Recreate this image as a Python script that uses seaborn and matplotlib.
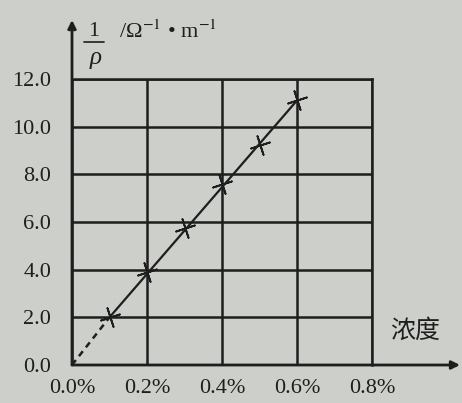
import matplotlib
matplotlib.use("Agg")
import matplotlib.pyplot as plt
import seaborn as sns
import pandas as pd

# data
conc = [0.1, 0.2, 0.3, 0.4, 0.5, 0.6]          # 浓度 (%)
inv_rho = [2.0, 3.9, 5.75, 7.6, 9.25, 11.1]      # 1/ρ (Ω^-1·m^-1)
fit_solid_x = [0.1, 0.6]
fit_solid_y = [2.0, 11.1]
fit_dash_x = [0.0, 0.1]
fit_dash_y = [0.0, 2.0]
xticks = [0.0, 0.2, 0.4, 0.6, 0.8]
xticklabels = ["0.0%", "0.2%", "0.4%", "0.6%", "0.8%"]
yticks = [0.0, 2.0, 4.0, 6.0, 8.0, 10.0, 12.0]
yticklabels = ["0.0", "2.0", "4.0", "6.0", "8.0", "10.0", "12.0"]

sns.set_theme(style="white")
plt.rcParams['font.family'] = ['Liberation Serif', 'DejaVu Serif']
plt.rcParams['mathtext.fontset'] = 'stix'

bg = '#cdcfca'
ink = '#1e1e1e'
W, H = 462, 403
fig = plt.figure(figsize=(W / 100, H / 100), dpi=100, facecolor=bg)
ax = fig.add_axes([72 / W, 1 - 365 / H, 300 / W, 286 / H])
ax.set_facecolor(bg)

df = pd.DataFrame({"x": conc, "y": inv_rho})
sns.lineplot(x=fit_solid_x, y=fit_solid_y, ax=ax, color=ink, lw=1.6)
sns.lineplot(x=fit_dash_x, y=fit_dash_y, ax=ax, color=ink, lw=1.8, linestyle=(0, (2.5, 2)))
sns.scatterplot(data=df, x="x", y="y", ax=ax, marker=(4, 2, 18), s=200,
                color=ink, linewidth=1.3, edgecolor=ink, zorder=5)

ax.set_xlim(0, 0.8)
ax.set_ylim(0, 12)
ax.set_xticks(xticks)
ax.set_xticklabels(xticklabels, fontsize=16)
ax.set_yticks(yticks)
ax.set_yticklabels(yticklabels, fontsize=16)
ax.tick_params(length=0, colors=ink)
ax.tick_params(axis='y', pad=15)
ax.tick_params(axis='x', pad=10)
ax.grid(True, color=ink, lw=1.8)
ax.set_axisbelow(True)
for s in ['top', 'right']:
    ax.spines[s].set_color(ink)
    ax.spines[s].set_linewidth(1.8)
for s in ['left', 'bottom']:
    ax.spines[s].set_visible(False)
ax.set_xlabel("")
ax.set_ylabel("")

# axis arrows
ax.annotate('', xy=(460 / W, 1 - 365 / H), xycoords='figure fraction',
            xytext=(0, 0), textcoords='axes fraction',
            arrowprops=dict(arrowstyle='-|>', color=ink, lw=2, mutation_scale=12,
                            shrinkA=0, shrinkB=0))
ax.annotate('', xy=(72 / W, 1 - 20 / H), xycoords='figure fraction',
            xytext=(0, 0), textcoords='axes fraction',
            arrowprops=dict(arrowstyle='-|>', color=ink, lw=2, mutation_scale=12,
                            shrinkA=0, shrinkB=0))

# axis labels
fig.text(94 / W, 1 - 31 / H, "1", fontsize=16, ha='center', va='center', color=ink)
fig.add_artist(plt.Line2D([84 / W, 104 / W], [1 - 42 / H, 1 - 42 / H], color=ink, lw=1.2))
fig.text(96 / W, 1 - 58 / H, "ρ", fontsize=18, style='italic', ha='center', va='center', color=ink)
fig.text(119 / W, 1 - 32 / H, "/Ω$^{-1}$ • m$^{-1}$", fontsize=16, ha='left', va='center', color=ink)
fig.text(415 / W, 1 - 331 / H, "浓度", fontsize=18, ha='center', va='center', color=ink,
         family=['Noto Sans CJK SC', 'DejaVu Sans'])

fig.savefig("out.png", dpi=100, facecolor=bg)
